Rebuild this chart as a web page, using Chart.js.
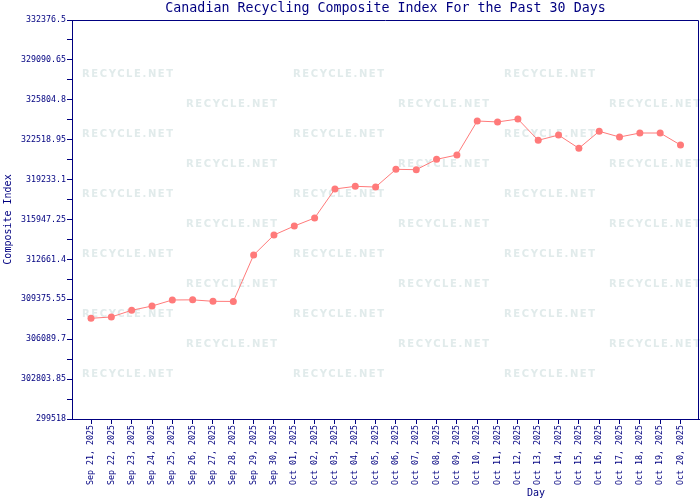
<!DOCTYPE html>
<html lang="en">
<head>
<meta charset="UTF-8">
<title>Canadian Recycling Composite Index</title>
<script src="https://cdn.jsdelivr.net/npm/chart.js"></script>
<style>
    body { margin: 0; background: #fff; }
    #wrap { width: 700px; height: 500px; }
</style>
</head>
<body>
<div id="wrap"><canvas id="grafico" width="700" height="500"></canvas></div>

<script>
// datos del grafico
const dias = [
    'Sep 21, 2025', 'Sep 22, 2025', 'Sep 23, 2025', 'Sep 24, 2025', 'Sep 25, 2025',
    'Sep 26, 2025', 'Sep 27, 2025', 'Sep 28, 2025', 'Sep 29, 2025', 'Sep 30, 2025',
    'Oct 01, 2025', 'Oct 02, 2025', 'Oct 03, 2025', 'Oct 04, 2025', 'Oct 05, 2025',
    'Oct 06, 2025', 'Oct 07, 2025', 'Oct 08, 2025', 'Oct 09, 2025', 'Oct 10, 2025',
    'Oct 11, 2025', 'Oct 12, 2025', 'Oct 13, 2025', 'Oct 14, 2025', 'Oct 15, 2025',
    'Oct 16, 2025', 'Oct 17, 2025', 'Oct 18, 2025', 'Oct 19, 2025', 'Oct 20, 2025'
];

const indice = [
    307810, 307920, 308470, 308820, 309320,
    309330, 309210, 309200, 313020, 314670,
    315410, 316070, 318460, 318680, 318620,
    320080, 320050, 320900, 321260, 324060,
    323980, 324220, 322470, 322900, 321810,
    323210, 322740, 323070, 323070, 322080
];

const etiquetasY = [
    '299518', '302803.85', '306089.7', '309375.55', '312661.4', '315947.25',
    '319233.1', '322518.95', '325804.8', '329090.65', '332376.5'
];

const titulo = 'Canadian Recycling Composite Index For the Past 30 Days';
const azul = '#000080';
const rojo = '#ff7a7a';

// ticks del eje Y: mayores con etiqueta y menores a la mitad
const valoresY = etiquetasY.map(Number);
const ticksY = [];
valoresY.forEach((v, i) => {
    ticksY.push({ value: v, label: etiquetasY[i] });
    if (i < valoresY.length - 1) {
        ticksY.push({ value: (v + valoresY[i + 1]) / 2, label: '' });
    }
});

// marca de agua y textos sueltos
const extras = {
    id: 'extras',
    beforeDatasetsDraw(chart) {
        const ctx = chart.ctx;
        ctx.save();
        ctx.font = 'bold 10px "DejaVu Sans"';
        ctx.fillStyle = '#e1ebeb';
        ctx.textBaseline = 'middle';
        ctx.textAlign = 'left';
        try { ctx.letterSpacing = '1.6px'; } catch (e) {}
        for (let f = 0; f < 11; f++) {
            const y = 74 + f * 30;
            const xs = f % 2 === 0 ? [82, 293, 504] : [186, 398, 609];
            xs.forEach(x => ctx.fillText('RECYCLE.NET', x, y));
        }
        ctx.restore();
    },
    afterDraw(chart) {
        const ctx = chart.ctx;
        const a = chart.chartArea;
        ctx.save();
        ctx.strokeStyle = azul;
        ctx.lineWidth = 1;
        ctx.beginPath();
        ctx.moveTo(Math.round(a.left) + 0.5, Math.round(a.top) + 0.5);
        ctx.lineTo(Math.round(a.right) - 0.5, Math.round(a.top) + 0.5);
        ctx.lineTo(Math.round(a.right) - 0.5, Math.round(a.bottom));
        ctx.stroke();

        ctx.fillStyle = azul;
        ctx.textAlign = 'center';
        ctx.textBaseline = 'middle';
        ctx.font = '13.3px "DejaVu Sans Mono"';
        ctx.fillText(titulo, (a.left + a.right) / 2, 9);
        ctx.font = '10px "DejaVu Sans Mono"';
        ctx.fillText('Day', 536, 493);
        ctx.restore();
    }
};

new Chart(document.getElementById('grafico'), {
    type: 'line',
    data: {
        datasets: [{
            label: 'Composite Index',
            data: indice.map((v, i) => ({ x: i, y: v })),
            borderColor: rojo,
            backgroundColor: rojo,
            borderWidth: 1,
            pointRadius: 3.5,
            pointBorderWidth: 0,
            pointBackgroundColor: rojo,
            tension: 0
        }]
    },
    options: {
        responsive: false,
        animation: false,
        layout: { autoPadding: false, padding: { top: 20, right: 1, left: 0, bottom: 0 } },
        plugins: {
            legend: { display: false },
            tooltip: { enabled: false },
            title: { display: false }
        },
        scales: {
            x: {
                type: 'linear',
                min: -0.936,
                max: 29.91,
                afterBuildTicks: scale => {
                    scale.ticks = dias.map((d, i) => ({ value: i }));
                },
                afterFit: scale => {
                    scale.height = 81;
                    scale.paddingLeft = 0;
                    scale.paddingRight = 0;
                },
                grid: { drawOnChartArea: false, drawTicks: true, tickLength: 5, color: azul },
                border: { color: azul, width: 1 },
                ticks: {
                    autoSkip: false,
                    minRotation: 90,
                    maxRotation: 90,
                    padding: 1,
                    color: azul,
                    font: { family: 'DejaVu Sans Mono', size: 8.3 },
                    callback: v => dias[v]
                }
            },
            y: {
                min: valoresY[0],
                max: valoresY[valoresY.length - 1],
                afterBuildTicks: scale => {
                    scale.ticks = ticksY.map(t => ({ value: t.value }));
                },
                afterFit: scale => {
                    scale.width = 72;
                    scale.paddingTop = 0;
                    scale.paddingBottom = 0;
                },
                grid: { drawOnChartArea: false, drawTicks: true, tickLength: 5, color: azul },
                border: { color: azul, width: 1 },
                title: {
                    display: true,
                    text: 'Composite Index',
                    color: azul,
                    font: { family: 'DejaVu Sans Mono', size: 10 },
                    padding: { top: 2, bottom: 0 }
                },
                ticks: {
                    autoSkip: false,
                    padding: 1,
                    color: azul,
                    font: { family: 'DejaVu Sans Mono', size: 8.3 },
                    callback: (v, i) => ticksY[i] ? ticksY[i].label : ''
                }
            }
        }
    },
    plugins: [extras]
});
</script>
</body>
</html>
